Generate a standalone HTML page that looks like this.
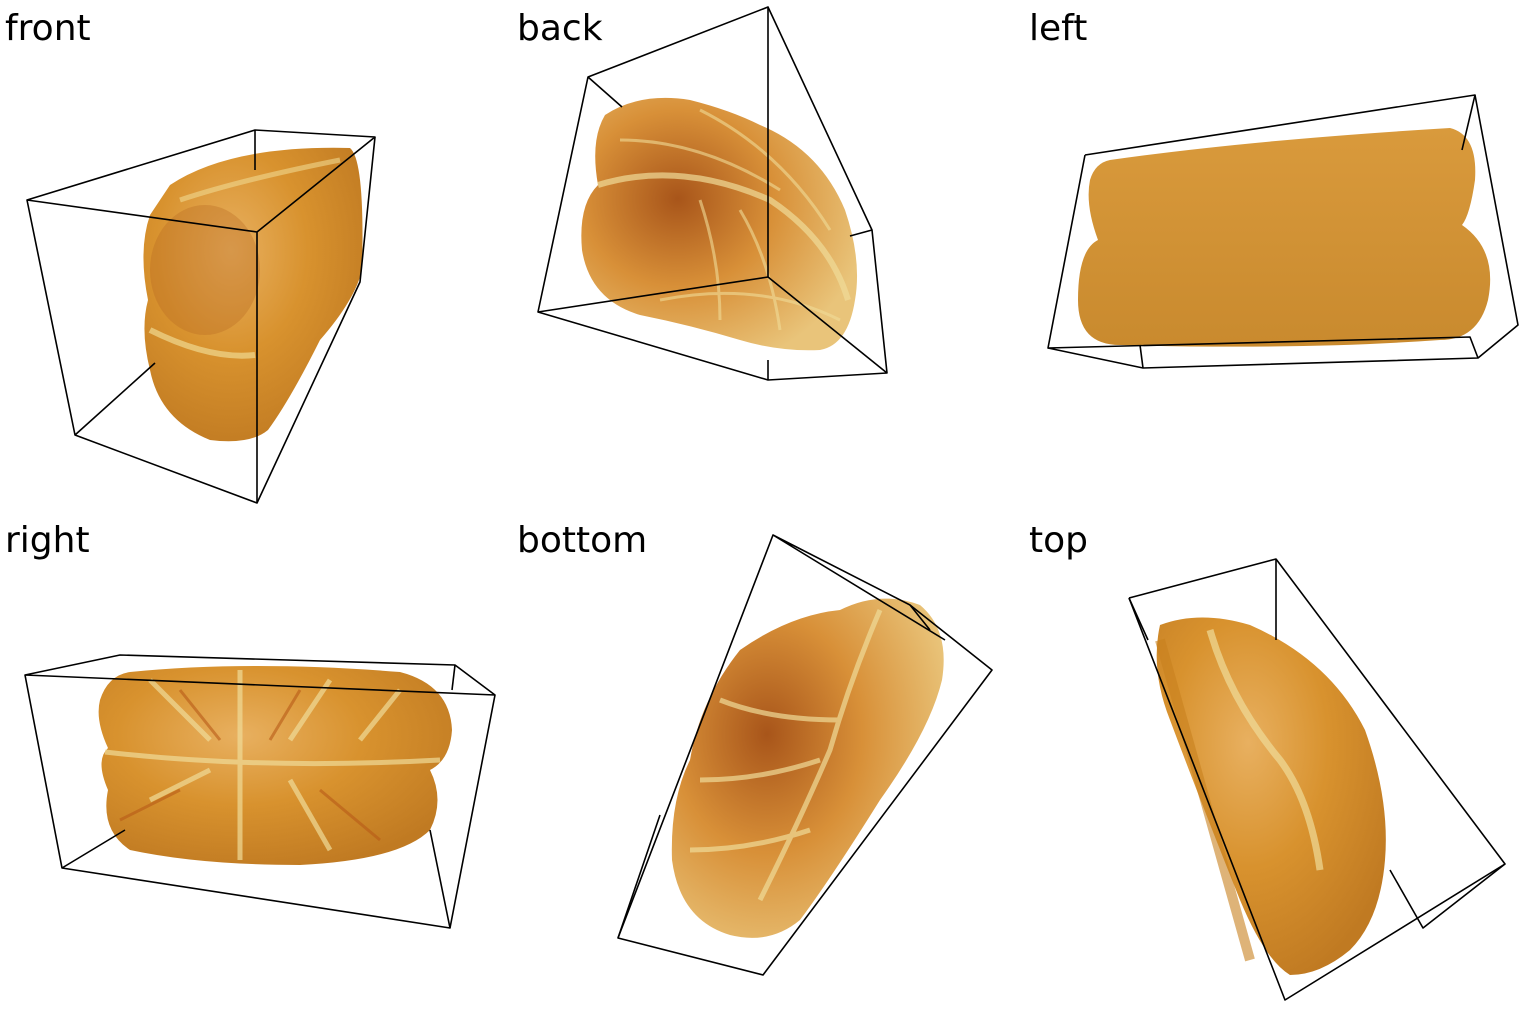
<!DOCTYPE html>
<html><head><meta charset="utf-8"><style>
html,body{margin:0;padding:0;background:#fff;width:1536px;height:1024px;overflow:hidden}
svg{display:block}
text{font-family:"DejaVu Sans","Liberation Sans",sans-serif;font-size:36px;fill:#000}
.box{fill:none;stroke:#000;stroke-width:1.6;stroke-linejoin:round}
</style></head><body>
<svg width="1536" height="1024" viewBox="0 0 1536 1024">
<defs>
<radialGradient id="g1" cx="40%" cy="35%" r="70%">
<stop offset="0" stop-color="#e8b060"/><stop offset="0.5" stop-color="#d8922e"/><stop offset="1" stop-color="#c07a22"/></radialGradient>
<radialGradient id="g2" cx="35%" cy="40%" r="70%">
<stop offset="0" stop-color="#a8551a"/><stop offset="0.5" stop-color="#d89038"/><stop offset="1" stop-color="#e9c47a"/></radialGradient>
<linearGradient id="g3" x1="0" y1="0" x2="0" y2="1">
<stop offset="0" stop-color="#d99a3c"/><stop offset="1" stop-color="#c98a2e"/></linearGradient>
</defs>

<!-- front -->
<g>
<text x="5" y="40">front</text>
<path d="M170,185 Q230,145 350,148 Q365,160 362,270 Q355,300 320,340 Q290,400 268,430 Q250,445 210,440 Q160,420 150,370 Q140,330 148,300 Q138,250 150,215 Z" fill="url(#g1)"/>
<ellipse cx="205" cy="270" rx="55" ry="65" fill="#b86a22" opacity="0.35"/>
<path d="M150,330 Q210,360 255,355" stroke="#f0d890" stroke-width="6" fill="none" opacity="0.7"/>
<path d="M180,200 Q240,180 340,160" stroke="#f0d890" stroke-width="5" fill="none" opacity="0.6"/>
<polyline class="box" points="27,200 257,232 257,503 75,435 27,200 255,130 375,137 257,232"/>
<polyline class="box" points="255,130 255,170"/>
<polyline class="box" points="375,137 360,282 257,503"/>
<polyline class="box" points="75,435 155,363"/>
</g>

<!-- back -->
<g>
<text x="517" y="40">back</text>
<path d="M605,115 Q640,92 690,100 Q730,110 760,125 Q820,150 845,210 Q862,260 855,300 Q848,345 820,350 Q780,352 740,340 Q690,325 640,315 Q590,300 582,250 Q578,205 598,185 Q590,140 605,115 Z" fill="url(#g2)"/>
<path d="M598,185 Q680,160 770,200 Q830,240 848,300" stroke="#f0dc98" stroke-width="6" fill="none" opacity="0.7"/>
<path d="M660,300 Q760,280 840,320 M700,110 Q780,150 830,230 M620,140 Q700,140 780,190 M700,200 Q720,260 720,320 M740,210 Q770,260 780,330" stroke="#f0dc98" stroke-width="3" fill="none" opacity="0.6"/>
<polyline class="box" points="588,77 768,7 872,230 887,373 768,380 538,312 588,77 622,107"/>
<polyline class="box" points="768,7 768,277 538,312"/>
<polyline class="box" points="768,277 887,373"/>
<polyline class="box" points="768,380 768,360"/>
<polyline class="box" points="872,230 850,236"/>
</g>

<!-- left -->
<g>
<text x="1029" y="40">left</text>
<path d="M1110,160 Q1250,140 1450,128 Q1478,135 1475,180 Q1470,215 1462,225 Q1498,250 1488,300 Q1478,340 1440,340 Q1300,350 1120,345 Q1078,345 1078,300 Q1078,250 1098,240 Q1085,205 1090,180 Q1095,163 1110,160 Z" fill="url(#g3)"/>
<polyline class="box" points="1085,155 1475,95 1518,325 1478,358 1143,368 1048,348 1085,155"/>
<polyline class="box" points="1475,95 1462,150"/>
<polyline class="box" points="1048,348 1470,337 1478,358"/>
<polyline class="box" points="1143,368 1140,345"/>
</g>

<!-- right -->
<g>
<text x="5" y="552">right</text>
<path d="M130,672 Q250,660 400,672 Q450,685 452,730 Q450,760 430,770 Q445,800 430,830 Q400,860 300,865 Q200,865 130,850 Q100,830 108,790 Q95,760 108,748 Q95,720 100,700 Q108,675 130,672 Z" fill="url(#g1)"/>
<path d="M105,752 Q260,770 440,760 M240,670 L240,860 M150,680 L210,740 M330,680 L290,740 M400,690 L360,740 M150,800 L210,770 M330,850 L290,780" stroke="#f0dc98" stroke-width="5" fill="none" opacity="0.7"/>
<path d="M180,690 L220,740 M300,690 L270,740 M120,820 L180,790 M380,840 L320,790" stroke="#b85a18" stroke-width="3" fill="none" opacity="0.6"/>
<polyline class="box" points="25,675 120,655 455,665 495,695 450,928 62,868 25,675 495,695"/>
<polyline class="box" points="62,868 125,830"/>
<polyline class="box" points="430,830 450,928"/>
<polyline class="box" points="455,665 452,690"/>
</g>

<!-- bottom -->
<g>
<text x="517" y="552">bottom</text>
<path d="M840,610 Q880,590 920,605 Q950,630 942,680 Q930,730 880,800 Q830,880 800,920 Q770,945 730,935 Q680,920 672,860 Q670,800 690,760 Q700,700 740,650 Q790,615 840,610 Z" fill="url(#g2)"/>
<path d="M760,900 Q800,820 830,750 Q850,680 880,610 M700,780 Q760,780 820,760 M720,700 Q770,720 840,720 M690,850 Q750,850 810,830" stroke="#f0dc98" stroke-width="5" fill="none" opacity="0.7"/>
<polyline class="box" points="773,535 910,605 992,670 763,975 618,938 773,535 945,640"/>
<polyline class="box" points="660,815 618,938"/>
<polyline class="box" points="910,605 930,630"/>
</g>

<!-- top -->
<g>
<text x="1029" y="552">top</text>
<path d="M1160,625 Q1200,610 1250,625 Q1330,660 1365,730 Q1390,800 1385,860 Q1380,920 1350,950 Q1320,975 1290,975 Q1265,960 1240,900 Q1200,800 1170,720 Q1150,670 1160,625 Z" fill="url(#g1)"/>
<path d="M1210,630 Q1230,700 1280,760 Q1310,800 1320,870" stroke="#f0dc98" stroke-width="7" fill="none" opacity="0.7"/>
<path d="M1160,640 L1250,960" stroke="#c8801e" stroke-width="10" fill="none" opacity="0.6"/>
<polyline class="box" points="1129,598 1276,559 1505,864 1285,1000 1129,598"/>
<polyline class="box" points="1276,559 1276,640"/>
<polyline class="box" points="1505,864 1423,928 1390,870"/>
<polyline class="box" points="1129,598 1148,640"/>
</g>
</svg>
</body></html>
